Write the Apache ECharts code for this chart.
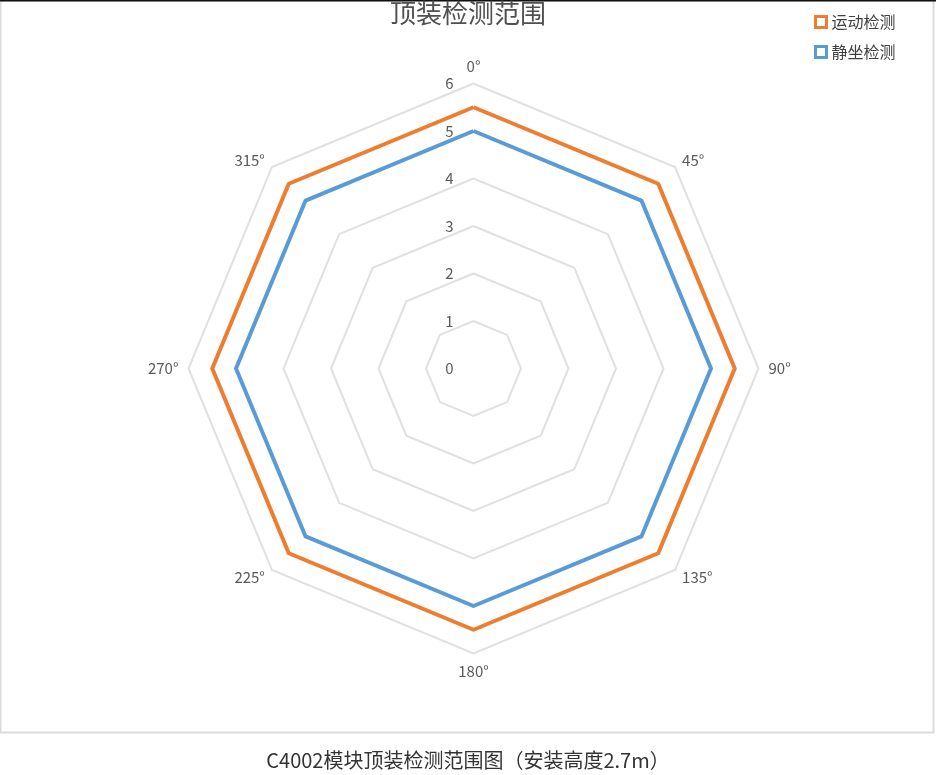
<!DOCTYPE html>
<html><head><meta charset="utf-8">
<script src="https://cdn.jsdelivr.net/npm/echarts@6/dist/echarts.min.js"></script>
<style>html,body{margin:0;padding:0;background:#fff;}#c{width:936px;height:775px;}</style>
</head><body><div id="c"></div>
<script>
const categories = ['0°','45°','90°','135°','180°','225°','270°','315°'];
const motion = [5.5,5.5,5.5,5.5,5.5,5.5,5.5,5.5];
const still = [5,5,5,5,5,5,5,5];
const seriesNames = ['运动检测','静坐检测'];
const axisMax = 6;
const titleText = '顶装检测范围';
const captionText = 'C4002模块顶装检测范围图（安装高度2.7m）';

const FONT = '"Noto Sans CJK SC", "Noto Sans", sans-serif';
const center = [473.5, 368.5];
const radius = 285;
const colors = ['#ed7d31','#5b9bd5'];

// ECharts radar runs counter-clockwise; reorder so the chart reads clockwise
const order = categories.map((_, i) => (categories.length - i) % categories.length);
const cw = arr => order.map(i => arr[i]);

const chart = echarts.init(document.getElementById('c'), null, {renderer:'canvas'});
chart.setOption({
  animation:false,
  textStyle:{fontFamily:FONT},
  title:[
    {text:titleText,left:'center',top:-5,textStyle:{fontSize:26,fontWeight:'normal',color:'#505050',fontFamily:FONT}},
    {text:captionText,left:'center',top:745,textStyle:{fontSize:20,fontWeight:'normal',color:'#333',fontFamily:FONT}}
  ],
  legend:{
    orient:'vertical',left:809,top:9,itemWidth:11,itemHeight:11,itemGap:14,icon:'rect',
    textStyle:{fontSize:16,color:'#404040',fontFamily:FONT},
    data:seriesNames.map((n,i)=>({name:n,itemStyle:{color:'#fff',borderColor:colors[i],borderWidth:3}}))
  },
  radar:[
    {
      center:center,radius:radius,startAngle:90,shape:'polygon',splitNumber:6,
      indicator:cw(categories).map(c=>({name:c,max:axisMax,min:0})),
      axisName:{color:'#595959',fontSize:15,fontFamily:FONT},
      nameGap:10,
      axisLine:{show:false},
      splitArea:{show:false},
      splitLine:{lineStyle:{color:'#e0e0e0',width:2}}
    },
    {
      center:center,radius:radius,startAngle:90,shape:'polygon',splitNumber:6,
      indicator:[{name:'',max:axisMax,min:0}],
      axisName:{show:false},
      axisLine:{show:false},axisTick:{show:false},
      splitArea:{show:false},splitLine:{show:false},
      axisLabel:{show:true,color:'#595959',fontSize:15,margin:20,fontFamily:FONT}
    }
  ],
  series:[{
    type:'radar',radarIndex:0,symbol:'none',
    data:[
      {name:seriesNames[0],value:cw(motion),lineStyle:{color:colors[0],width:4},itemStyle:{color:colors[0]}},
      {name:seriesNames[1],value:cw(still),lineStyle:{color:colors[1],width:4},itemStyle:{color:colors[1]}}
    ]
  }],
  graphic:[
    {type:'rect',shape:{x:0.5,y:0.5,width:933,height:732},style:{fill:null,stroke:'#dcdcdc',lineWidth:2},silent:true,z:-1},
    {type:'line',shape:{x1:0,y1:0.5,x2:936,y2:0.5},style:{stroke:'#111',lineWidth:2},silent:true}
  ]
});
</script></body></html>
